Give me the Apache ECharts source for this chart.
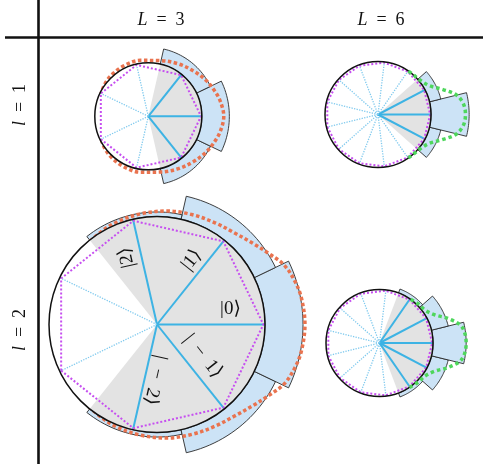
<!DOCTYPE html>
<html>
<head>
<meta charset="utf-8">
<script src="https://cdn.jsdelivr.net/npm/echarts@6/dist/echarts.min.js"></script>
<style>
  html, body { margin: 0; padding: 0; background: #ffffff; }
  #chart { width: 483px; height: 464px; }
</style>
</head>
<body>
<div id="chart"></div>
<script>
// ---- data -------------------------------------------------------------
// column / row parameters of the four panels (A: l=1,L=3  B: l=1,L=6  C: l=2,L=3  D: l=2,L=6)
const bigL   = [3, 6];
const smallL = [1, 2];
const panelBigL   = [3, 6, 3, 6];
const panelSmallL = [1, 1, 2, 2];

// bar outer radii (unit = circle radius), ordered k = -l .. l
const barsA = [1.29, 1.515, 1.29];
const barsB = [1.22, 1.72, 1.22];
const barsC = [1.042, 1.218, 1.352, 1.218, 1.042];
const barsD = [1.078, 1.323, 1.62, 1.323, 1.078];

// envelope curves, read for angles >= 0 (the curves are mirror symmetric)
const orangeAngA = [0, 12, 21, 32, 45, 60, 78, 98, 115, 130, 142, 155, 180];
const orangeRadA = [1.411, 1.374, 1.327, 1.271, 1.196, 1.13, 1.065, 1.056, 1.05, 1.035, 1.015, 0.975, 0.96];
const orangeAngC = [0, 10, 17, 25, 32, 40, 50, 60, 72, 85, 99, 112, 122, 135, 180];
const orangeRadC = [1.37, 1.36, 1.34, 1.30, 1.23, 1.165, 1.11, 1.085, 1.068, 1.055, 1.035, 1.018, 1.0, 0.97, 0.96];
const greenAngB = [0, 7, 14, 21, 29, 35, 42, 48, 55];
const greenRadB = [1.65, 1.625, 1.525, 1.313, 1.115, 1.05, 1.015, 1.003, 1.0];
const greenAngD = [0, 11, 19, 27, 36, 45, 56];
const greenRadD = [1.62, 1.57, 1.38, 1.16, 1.05, 1.03, 1.0];

// basis-state labels in panel C, k = 2 .. -2
const ketK     = [2, 1, 0, -1, -2];
const ketTexts = ['|2⟩', '|1⟩', '|0⟩', '|\u2002−\u20021⟩', '|\u2002−\u20022⟩'];

// ---- layout -----------------------------------------------------------
const RMAX = 2;
const panels = [
  { cx: 148.3, cy: 116.3, R: 53.5 },
  { cx: 378.0, cy: 114.5, R: 53.0 },
  { cx: 157.0, cy: 324.5, R: 108.0 },
  { cx: 379.5, cy: 343.0, R: 53.5 }
];
// label placement (radius in circle units, angle in degrees)
const ketPlace = [
  { r: 0.68,  a: 114.3 },
  { r: 0.678, a: 61.7 },
  { r: 0.695, a: 11.8 },
  { r: 0.516, a: -34.4 },
  { r: 0.514, a: -92.0 }
];

const COL = {
  bar: '#cce3f6', barEdge: '#2a2a2a', gray: '#e3e3e3',
  spoke: '#3db3e4', spokeDot: '#80caee', poly: '#c64ff0',
  orange: '#e9734f', green: '#4ed65c', ink: '#111111'
};
const SERIF = "'Liberation Serif', 'DejaVu Serif', serif";

// ---- helpers ----------------------------------------------------------
function mirror(angles, radii) {
  const out = [];
  for (let i = angles.length - 1; i > 0; i--) out.push([radii[i], -angles[i]]);
  for (let i = 0; i < angles.length; i++) out.push([radii[i], angles[i]]);
  return out;
}
function arcPoints(api, r, a0, a1, steps) {
  const pts = [];
  for (let i = 0; i <= steps; i++) pts.push(api.coord([r, a0 + (a1 - a0) * i / steps]));
  return pts;
}
function dist(p, q) { return Math.hypot(p[0] - q[0], p[1] - q[1]); }

const series = [];
const barSets = [barsA, barsB, barsC, barsD];

panels.forEach((p, i) => {
  const N = 2 * panelBigL[i] + 1;
  const step = 360 / N;
  const l = panelSmallL[i];

  // bars on the rim
  series.push({
    type: 'custom', coordinateSystem: 'polar', polarIndex: i, z: 2, silent: true,
    dimensions: ['radius', 'angle', 'width'], encode: { radius: 0, angle: 1 },
    data: barSets[i].map((v, j) => [v, (j - l) * step, step]),
    renderItem: (params, api) => {
      const r = api.value(0), a = api.value(1), h = api.value(2) / 2;
      const outer = arcPoints(api, r, a - h, a + h, 24);
      const inner = arcPoints(api, 1, a + h, a - h, 24);
      return { type: 'polygon', shape: { points: outer.concat(inner) },
               style: { fill: COL.bar, stroke: COL.barEdge, lineWidth: 0.9 } };
    }
  });

  // white disc
  series.push({
    type: 'custom', coordinateSystem: 'polar', polarIndex: i, z: 4, silent: true,
    dimensions: ['radius', 'angle'], encode: { radius: 0, angle: 1 },
    data: [[1, 0]],
    renderItem: (params, api) => {
      const c = api.coord([0, 0]);
      return { type: 'circle', shape: { cx: c[0], cy: c[1], r: dist(c, api.coord([1, 0])) },
               style: { fill: '#ffffff' } };
    }
  });

  // gray sector covering |k| <= l
  series.push({
    type: 'custom', coordinateSystem: 'polar', polarIndex: i, z: 5, silent: true,
    dimensions: ['radius', 'angle'], encode: { radius: 0, angle: 1 },
    data: [[1, (l + 0.5) * step]],
    renderItem: (params, api) => {
      const h = api.value(1);
      const pts = [api.coord([0, 0])].concat(arcPoints(api, 1, -h, h, 60));
      return { type: 'polygon', shape: { points: pts }, style: { fill: COL.gray } };
    }
  });

  // spokes
  const spokes = [];
  for (let k = -panelBigL[i]; k <= panelBigL[i]; k++) spokes.push([1, k * step, Math.abs(k) <= l ? 1 : 0]);
  series.push({
    type: 'custom', coordinateSystem: 'polar', polarIndex: i, z: 6, silent: true,
    dimensions: ['radius', 'angle', 'solid'], encode: { radius: 0, angle: 1 },
    data: spokes,
    renderItem: (params, api) => {
      const a = api.value(1), solid = api.value(2) === 1;
      const c = api.coord([0, a]), e = api.coord([api.value(0), a]);
      return { type: 'line', shape: { x1: c[0], y1: c[1], x2: e[0], y2: e[1] },
               style: solid ? { stroke: COL.spoke, lineWidth: 2 }
                            : { stroke: COL.spokeDot, lineWidth: 1.3, lineDash: [1.3, 1.3] } };
    }
  });

  // polygon through the sample points
  const poly = [];
  for (let k = -panelBigL[i]; k <= panelBigL[i] + 1; k++) poly.push([0.985, k * step]);
  series.push({
    type: 'line', coordinateSystem: 'polar', polarIndex: i, z: 7, silent: true,
    symbol: 'none', data: poly,
    lineStyle: { color: COL.poly, width: 2, type: [2, 2] }
  });

  // circle outline
  series.push({
    type: 'custom', coordinateSystem: 'polar', polarIndex: i, z: 8, silent: true,
    dimensions: ['radius', 'angle'], encode: { radius: 0, angle: 1 },
    data: [[1, 0]],
    renderItem: (params, api) => {
      const c = api.coord([0, 0]);
      return { type: 'circle', shape: { cx: c[0], cy: c[1], r: dist(c, api.coord([api.value(0), 0])) },
               style: { fill: null, stroke: COL.ink, lineWidth: 1.5 } };
    }
  });
});

// envelope curves
series.push({
  type: 'line', coordinateSystem: 'polar', polarIndex: 0, z: 3, silent: true, symbol: 'none',
  smooth: 0.35, data: mirror(orangeAngA, orangeRadA),
  lineStyle: { color: COL.orange, width: 3.5, type: [3.5, 2.5] }
});
series.push({
  type: 'line', coordinateSystem: 'polar', polarIndex: 2, z: 3, silent: true, symbol: 'none',
  smooth: 0.35, data: mirror(orangeAngC, orangeRadC),
  lineStyle: { color: COL.orange, width: 3.5, type: [3.5, 2.5] }
});
series.push({
  type: 'line', coordinateSystem: 'polar', polarIndex: 1, z: 9, silent: true, symbol: 'none',
  smooth: 0.35, data: mirror(greenAngB, greenRadB),
  lineStyle: { color: COL.green, width: 3.5, type: [3.5, 3] }
});
series.push({
  type: 'line', coordinateSystem: 'polar', polarIndex: 3, z: 9, silent: true, symbol: 'none',
  smooth: 0.35, data: mirror(greenAngD, greenRadD),
  lineStyle: { color: COL.green, width: 3.5, type: [3.5, 3] }
});

// ket labels in panel C, each turned along its own spoke
const stepC = 360 / (2 * panelBigL[2] + 1);
series.push({
  type: 'custom', coordinateSystem: 'polar', polarIndex: 2, z: 10, silent: true,
  dimensions: ['radius', 'angle', 'k'], encode: { radius: 0, angle: 1 },
  data: ketK.map((k, j) => [ketPlace[j].r, ketPlace[j].a, k]),
  renderItem: (params, api) => {
    const pos = api.coord([api.value(0), api.value(1)]);
    const j = params.dataIndex;
    return { type: 'text', x: pos[0], y: pos[1],
             rotation: api.value(2) * stepC * Math.PI / 180,
             style: { text: ketTexts[j], fill: '#111', font: '19px ' + SERIF,
                      align: 'center', verticalAlign: 'middle' } };
  }
});

const headRich = { i: { fontStyle: 'italic', fontFamily: SERIF, fontSize: 18, fill: '#111' },
                   n: { fontFamily: SERIF, fontSize: 18, fill: '#111' } };
const EQ = '\u2002=\u2002';
const graphic = [
  { type: 'line', shape: { x1: 38.5, y1: 0, x2: 38.5, y2: 464 }, style: { stroke: COL.ink, lineWidth: 2.6 }, z: 20 },
  { type: 'line', shape: { x1: 5, y1: 37.5, x2: 483, y2: 37.5 }, style: { stroke: COL.ink, lineWidth: 2.6 }, z: 20 },
  { type: 'text', x: 161, y: 20.5, z: 20,
    style: { text: '{i|L}{n|' + EQ + bigL[0] + '}', rich: headRich, align: 'center', verticalAlign: 'middle' } },
  { type: 'text', x: 381, y: 20.5, z: 20,
    style: { text: '{i|L}{n|' + EQ + bigL[1] + '}', rich: headRich, align: 'center', verticalAlign: 'middle' } },
  { type: 'text', x: 20, y: 105, z: 20, rotation: Math.PI / 2,
    style: { text: '{i|l}{n|' + EQ + smallL[0] + '}', rich: headRich, align: 'center', verticalAlign: 'middle' } },
  { type: 'text', x: 20, y: 330, z: 20, rotation: Math.PI / 2,
    style: { text: '{i|l}{n|' + EQ + smallL[1] + '}', rich: headRich, align: 'center', verticalAlign: 'middle' } }
];

const chart = echarts.init(document.getElementById('chart'), null, { renderer: 'canvas' });
chart.setOption({
  animation: false,
  backgroundColor: '#ffffff',
  polar: panels.map(p => ({ center: [p.cx, p.cy], radius: p.R * RMAX })),
  angleAxis: panels.map((p, i) => ({
    polarIndex: i, type: 'value', min: -180, max: 180, startAngle: 180, clockwise: false,
    axisLine: { show: false }, axisTick: { show: false }, axisLabel: { show: false }, splitLine: { show: false }
  })),
  radiusAxis: panels.map((p, i) => ({
    polarIndex: i, type: 'value', min: 0, max: RMAX,
    axisLine: { show: false }, axisTick: { show: false }, axisLabel: { show: false }, splitLine: { show: false }
  })),
  series: series,
  graphic: graphic
});
</script>
</body>
</html>
